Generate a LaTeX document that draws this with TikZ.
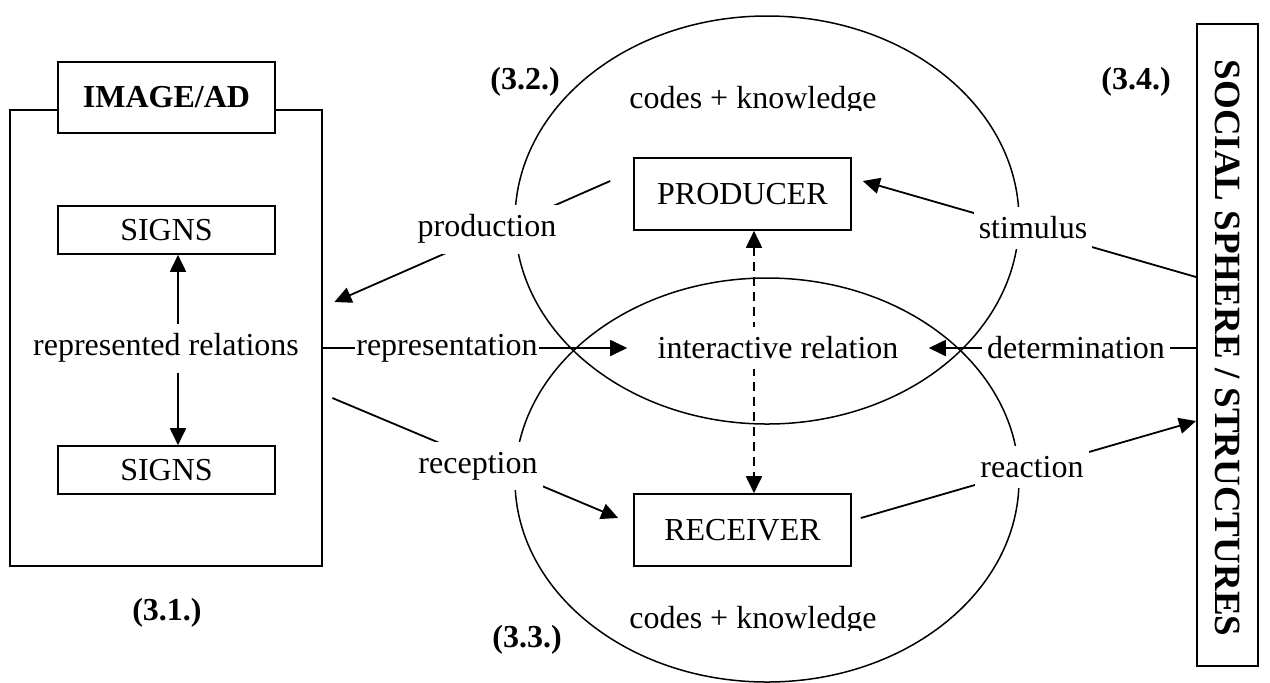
\documentclass[tikz,border=0pt]{standalone}
\usepackage{fontspec}
\setmainfont{Liberation Serif}
\usetikzlibrary{arrows.meta}
\pgfdeclarelayer{bg}
\pgfsetlayers{bg,main}
\begin{document}
\begin{tikzpicture}[x=0.5pt,y=-0.5pt,
  every node/.style={font=\fontsize{16}{19}\selectfont, inner sep=0pt},
  box/.style={draw, line width=0.8pt, fill=white, minimum width=108.5pt, minimum height=24pt},
  lbl/.style={fill=white, inner xsep=2.5pt, inner ysep=5pt},
  numlbl/.style={font=\fontsize{16}{19}\selectfont\bfseries},
  conn/.style={line width=0.9pt},
  arr/.style={conn, -{Triangle[length=8.5pt,width=8pt]}},
  darr/.style={conn, {Triangle[length=8.5pt,width=8pt]}-{Triangle[length=8.5pt,width=8pt]}},
  oval/.style={line width=0.75pt},
]
\useasboundingbox (0,0) rectangle (1270,682);

% left: image / ad
\node[draw, line width=1.4pt, minimum width=156pt, minimum height=228pt] (image) at (166,338) {};
\node[box, minimum height=35.5pt, font=\fontsize{16}{19}\selectfont\bfseries] (title) at (166.5,97.5) {IMAGE/AD};
\node[box] (signsA) at (166.5,230) {SIGNS};
\node[box] (signsB) at (166.5,470) {SIGNS};
\node[lbl] (reprel) at (166,348) {represented relations};

% centre
\node[box, minimum height=36pt] (prod) at (742.5,194) {PRODUCER};
\node[box, minimum height=36pt] (recv) at (742.5,530) {RECEIVER};
\node[lbl] (interact) at (778,348) {interactive relation};

\begin{scope}
  \clip (600,60) rectangle (920,110);
  \node[anchor=base] (codesA) at (753,108) {codes + knowledge};
\end{scope}
\begin{scope}
  \clip (600,580) rectangle (920,630);
  \node[anchor=base] (codesB) at (753,628) {codes + knowledge};
\end{scope}

% right
\node[draw, line width=1pt, rotate=-90, minimum width=321pt, minimum height=30.5pt,
      font=\fontsize{18.5}{20}\selectfont\bfseries] (social) at (1227.5,345) {};
\node[rotate=-90, font=\fontsize{18.5}{20}\selectfont\bfseries] (socialtxt) at (1228,348) {SOCIAL SPHERE / STRUCTURES};

% connector labels
\node[lbl] (production) at (487,229) {production};
\node[lbl] (reception) at (478,466) {reception};
\node[lbl, inner xsep=0.5pt] (representation) at (447,348) {representation};
\node[lbl] (stimulus) at (1033,228) {stimulus};
\node[lbl] (determination) at (1076,348) {determination};
\node[lbl] (reaction) at (1032,467) {reaction};

% section numbers
\node[numlbl] (n31) at (167,613) {(3.1.)};
\node[numlbl] (n32) at (525,82) {(3.2.)};
\node[numlbl] (n33) at (527,640) {(3.3.)};
\node[numlbl] (n34) at (1136,82) {(3.4.)};

\begin{pgfonlayer}{bg}
  \draw[oval] (767,220) ellipse [x radius=126pt, y radius=102pt];
  \draw[oval] (767,480) ellipse [x radius=126pt, y radius=101pt];

  \draw[darr] ([xshift=5.75pt]signsA.south) -- ([xshift=5.75pt]signsB.north);
  \draw[darr, dash pattern=on 4.5pt off 3pt] ([xshift=5.75pt]prod.south) -- ([xshift=5.75pt]recv.north);

  \draw[arr] (image.east |- interact) -- ([xshift=-12.5pt]interact.west);
  \draw[arr] ([xshift=-11.5pt,yshift=6.5pt]prod.west) -- ([xshift=5.5pt,yshift=18pt]image.east);
  \draw[arr] ([xshift=4.5pt,yshift=-30pt]image.east) -- ([xshift=-7.5pt,yshift=6pt]recv.west);

  \draw[arr] ([yshift=34pt]social.south) -- ([xshift=5.5pt,yshift=6.5pt]prod.east);
  \draw[arr] (social.south |- interact) -- ([xshift=12.5pt]interact.east);
  \draw[arr] ([xshift=4.5pt,yshift=6pt]recv.east) -- ([yshift=-38pt]social.south);
\end{pgfonlayer}
\end{tikzpicture}
\end{document}
